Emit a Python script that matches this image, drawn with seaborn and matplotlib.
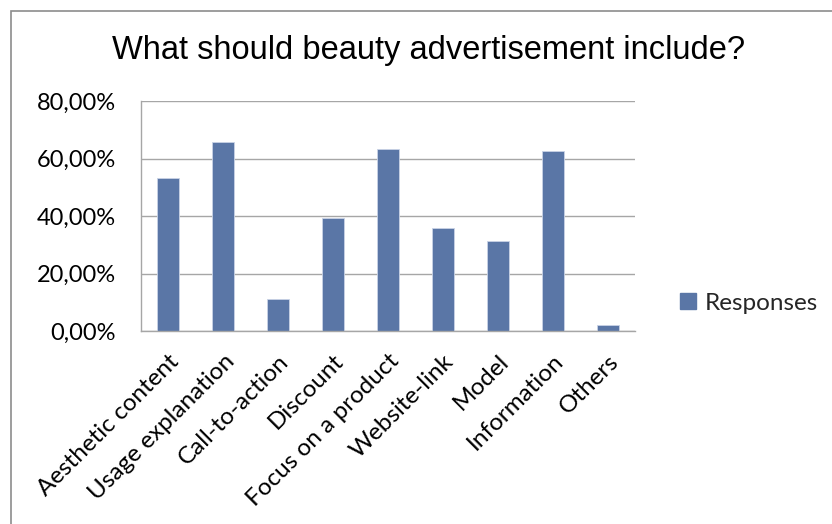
import matplotlib
matplotlib.use("Agg")
import matplotlib.pyplot as plt
import matplotlib.patches as mpatches
from matplotlib.ticker import FuncFormatter, MultipleLocator
import seaborn as sns
import pandas as pd

categories = ["Aesthetic content", "Usage explanation", "Call-to-action", "Discount",
              "Focus on a product", "Website-link", "Model", "Information", "Others"]
responses = [53.3, 65.8, 11.0, 39.4, 63.3, 35.8, 31.3, 62.6, 2.1]
series_name = "Responses"
title = "What should beauty advertisement include?"

df = pd.DataFrame({"category": categories, "value": responses})

sns.set_theme(style="white")
plt.rcParams["font.family"] = ["Lato", "DejaVu Sans"]

BAR = "#5A76A6"
GRID = "#A6A6A6"

fig = plt.figure(figsize=(8.32, 5.24), dpi=100)
ax = fig.add_axes([141 / 832, 1 - 331 / 524, (635 - 141) / 832, (331 - 101) / 524])

sns.barplot(data=df, x="category", y="value", color=BAR, width=0.4, saturation=1,
            edgecolor="#C9D3E6", linewidth=0.6, ax=ax)

ax.set_ylim(0, 80)
ax.set_xlim(-0.5, len(categories) - 0.5)
ax.yaxis.set_major_locator(MultipleLocator(20))
ax.yaxis.set_major_formatter(FuncFormatter(lambda v, p: f"{v:.2f}".replace(".", ",") + "%"))
ax.grid(axis="y", color=GRID, linewidth=1.0)
ax.set_axisbelow(True)
ax.set_xlabel("")
ax.set_ylabel("")

for s in ["top", "right"]:
    ax.spines[s].set_visible(False)
for s in ["left", "bottom"]:
    ax.spines[s].set_color(GRID)
    ax.spines[s].set_linewidth(1.0)

# category ticks sit on the boundaries between bars
ax.set_xticks([i - 0.5 for i in range(len(categories) + 1)], minor=True)
ax.tick_params(axis="x", which="minor", length=8, color=GRID, width=1.0, direction="out")
ax.tick_params(axis="x", which="major", length=0, pad=14)
ax.set_xticks(range(len(categories)))
ax.set_xticklabels(categories, rotation=45, ha="right", rotation_mode="anchor", fontsize=17.5)
ax.tick_params(axis="y", length=8, color=GRID, width=1.0, direction="out", labelsize=17, pad=10)
for lab in ax.get_yticklabels() + ax.get_xticklabels():
    lab.set_color("black")

fig.text(429 / 832, 1 - 50 / 524, title, ha="center", va="center",
         fontsize=23.5, family=["Liberation Sans", "DejaVu Sans"], color="black")

handle = mpatches.Patch(color=BAR, label=series_name)
fig.legend(handles=[handle], loc="center left", bbox_to_anchor=(668 / 832, 1 - 303 / 524),
           frameon=False, fontsize=17.5, handlelength=0.65, handleheight=0.65,
           handletextpad=0.35, borderpad=0)

# chart-area border
fig.add_artist(mpatches.Rectangle((10.5 / 832, -0.05), 1.2, 1 - 10.5 / 524 + 0.05,
                                  transform=fig.transFigure, fill=False,
                                  edgecolor="#8C8C8C", linewidth=1.2))

fig.savefig("out.png", dpi=100, facecolor="white")
